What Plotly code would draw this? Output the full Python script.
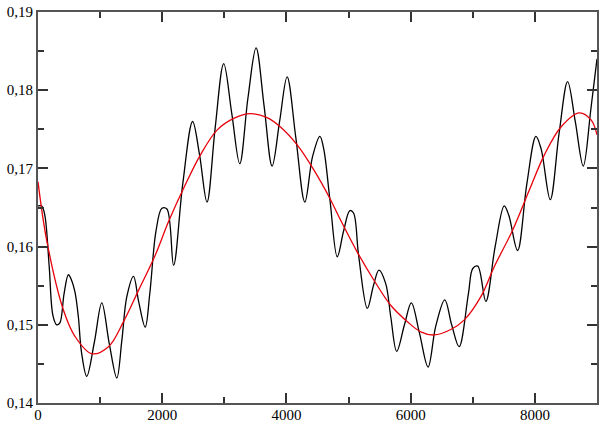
import plotly.graph_objects as go

# black curve: points (x, value)
raw_x = [0, 60, 110, 180, 240, 300, 350, 420, 489, 540, 597, 650, 700, 785, 908,
         1027, 1145, 1269, 1350, 1430, 1538, 1620, 1726, 1800, 1900, 1995, 2076,
         2183, 2330, 2489, 2600, 2721, 2850, 2990, 3120, 3248, 3380, 3511, 3640,
         3769, 3890, 4011, 4150, 4296, 4420, 4538, 4600, 4700, 4818, 4920, 5021,
         5080, 5160, 5302, 5400, 5489, 5597, 5680, 5775, 5900, 6011, 6140, 6280,
         6403, 6549, 6660, 6780, 6930, 7000, 7080, 7210, 7360, 7506, 7580, 7721,
         7870, 8017, 8100, 8247, 8390, 8527, 8650, 8779, 8900, 9000]
raw_y = [0.1652, 0.1652, 0.1640, 0.1575, 0.1512, 0.1500, 0.1502, 0.1540, 0.1564,
         0.1557, 0.1541, 0.1510, 0.1465, 0.1434, 0.1478, 0.1528, 0.1477, 0.1432,
         0.1480, 0.1536, 0.1562, 0.1530, 0.1497, 0.1540, 0.1620, 0.1649, 0.1648,
         0.1576, 0.1680, 0.1760, 0.1718, 0.1657, 0.1750, 0.1834, 0.1770, 0.1706,
         0.1790, 0.1854, 0.1780, 0.1703, 0.1760, 0.1817, 0.1740, 0.1657, 0.1715,
         0.1741, 0.1725, 0.1660, 0.1587, 0.1620, 0.1646, 0.1643, 0.1590, 0.1521,
         0.1550, 0.1570, 0.1553, 0.1510, 0.1466, 0.1500, 0.1528, 0.1490, 0.1446,
         0.1498, 0.1532, 0.1500, 0.1472, 0.1540, 0.1572, 0.1575, 0.1530, 0.1600,
         0.1652, 0.1640, 0.1595, 0.1680, 0.1741, 0.1725, 0.1660, 0.1745, 0.1811,
         0.1760, 0.1703, 0.1775, 0.1840]

# red fitted curve
fit_x = [0, 140, 409, 597, 866, 1135, 1377, 1618, 1887, 2102, 2371, 2613, 2882,
         3151, 3420, 3689, 3904, 4173, 4441, 4710, 4871, 5140, 5409, 5678, 5947,
         6162, 6377, 6646, 6860, 7130, 7344, 7641, 7909, 8151, 8420, 8715, 8904, 9000]
fit_y = [0.1683, 0.1608, 0.1519, 0.1485, 0.1463, 0.1472, 0.1504, 0.1544, 0.1589,
         0.1632, 0.1679, 0.1717, 0.1749, 0.1764, 0.1770, 0.1765, 0.1753, 0.1730,
         0.1698, 0.1660, 0.1634, 0.1593, 0.1557, 0.1525, 0.1504, 0.1491, 0.1487,
         0.1494, 0.1506, 0.1536, 0.1574, 0.1621, 0.1672, 0.1717, 0.1753, 0.1771,
         0.1762, 0.1743]

fig = go.Figure()
fig.add_trace(go.Scatter(x=raw_x, y=raw_y, mode="lines",
                         line=dict(color="black", width=1.3, shape="spline", smoothing=1)))
fig.add_trace(go.Scatter(x=fit_x, y=fit_y, mode="lines",
                         line=dict(color="#e8000b", width=1.3, shape="spline", smoothing=1)))

axis_common = dict(
    showgrid=False, zeroline=False, showline=True, linecolor="#555", linewidth=2,
    mirror="ticks", ticks="inside", ticklen=10, tickwidth=1.5, tickcolor="#333",
    automargin=False,
    tickfont=dict(family="Liberation Serif, Times New Roman, serif", size=15, color="black"),
)
fig.update_xaxes(range=[0, 9000], dtick=2000, tick0=0, ticklabelstandoff=-3,
                 minor=dict(dtick=1000, ticks="inside", ticklen=6, tickcolor="#333"),
                 **axis_common)
fig.update_yaxes(range=[0.14, 0.19], dtick=0.01, tick0=0.14, tickformat=".2f",
                 minor=dict(dtick=0.005, ticks="inside", ticklen=6, tickcolor="#333"),
                 **axis_common)
fig.update_layout(
    width=600, height=424, showlegend=False,
    margin=dict(l=38, r=3, t=12, b=21),
    paper_bgcolor="white", plot_bgcolor="white",
    separators=",.",
)
# page body has a default 8px margin; drop it so the figure fills the window
fig.write_html("out.html", config={"displayModeBar": False},
               post_script="document.body.style.margin = '0';")
